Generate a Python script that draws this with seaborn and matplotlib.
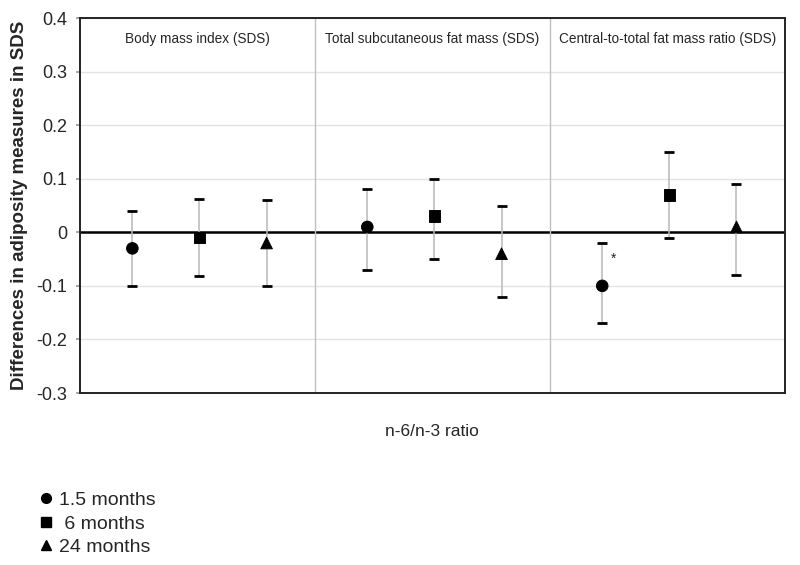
import numpy as np
import pandas as pd
import matplotlib
matplotlib.use('Agg')
import matplotlib.pyplot as plt
from matplotlib.lines import Line2D
import seaborn as sns

# data
outcomes = ['Body mass index (SDS)', 'Total subcutaneous fat mass (SDS)',
            'Central-to-total fat mass ratio (SDS)']
ages = ['1.5 months', '6 months', '24 months']
estimate = [-0.03, -0.01, -0.02,
            0.01, 0.03, -0.04,
            -0.10, 0.07, 0.01]
lower = [-0.10, -0.082, -0.10,
         -0.07, -0.05, -0.12,
         -0.17, -0.01, -0.08]
upper = [0.04, 0.063, 0.06,
         0.08, 0.10, 0.05,
         -0.02, 0.15, 0.09]
significant = [False, False, False, False, False, False, True, False, False]

df = pd.DataFrame({
    'outcome': np.repeat(outcomes, len(ages)),
    'age': ages * len(outcomes),
    'est': estimate,
    'lo': lower,
    'hi': upper,
    'sig': significant,
})
panel_w = 3.5
df['pos'] = [outcomes.index(o) * panel_w + 0.78 + ages.index(a)
             for o, a in zip(df['outcome'], df['age'])]

sns.set_theme(style='white')
plt.rcParams['font.family'] = ['Liberation Sans', 'DejaVu Sans']

fig = plt.figure(figsize=(8, 5.65), dpi=100)
ax = fig.add_axes([0.1, 0.3044, 0.881, 0.6637])

# error bars: grey stems, black caps
ax.vlines(df['pos'], df['lo'], df['hi'], color='#b8b8b8', lw=1.1, zorder=2)
ax.scatter(df['pos'], df['lo'], marker='_', s=50, color='black', linewidths=2.0, zorder=3)
ax.scatter(df['pos'], df['hi'], marker='_', s=50, color='black', linewidths=2.0, zorder=3)

markers = {'1.5 months': 'o', '6 months': 's', '24 months': '^'}
sns.scatterplot(data=df, x='pos', y='est', style='age', markers=markers,
                style_order=ages, color='black', s=70, edgecolor='black',
                legend=False, ax=ax, zorder=4)

for _, r in df[df['sig']].iterrows():
    ax.text(r['pos'] + 0.17, r['hi'] - 0.03, '*', fontsize=10, ha='center', va='center')

ax.set_xlim(0, panel_w * len(outcomes))
ax.set_ylim(-0.3, 0.4)
ax.set_yticks(np.arange(-0.3, 0.41, 0.1))
ax.set_yticklabels(['-0.3', '-0.2', '-0.1', '0', '0.1', '0.2', '0.3', '0.4'], fontsize=13)
ax.set_xticks([])
for y in np.arange(-0.2, 0.4, 0.1):
    ax.axhline(y, color='#e3e3e3', lw=1, zorder=0)
ax.axhline(0, color='black', lw=1.8, zorder=1)
for i in range(1, len(outcomes)):
    ax.axvline(i * panel_w, color='#c0c0c0', lw=1, zorder=1)
for i, o in enumerate(outcomes):
    ax.text(i * panel_w + panel_w / 2, 0.36, o, ha='center', va='center', fontsize=9.8)

ax.tick_params(axis='y', length=3, color='#999999', left=True, pad=6)
for s in ax.spines.values():
    s.set_color('#222222')
    s.set_linewidth(1.4)

ax.set_ylabel('Differences in adiposity measures in SDS', fontsize=13.5,
              fontweight='bold', labelpad=6)
ax.set_xlabel('n-6/n-3 ratio', fontsize=12.5, labelpad=22)

handles = [Line2D([], [], marker=markers[a], color='black', ls='', markersize=7)
           for a in ages]
fig.legend(handles, ['1.5 months', ' 6 months', '24 months'], loc='upper left',
           bbox_to_anchor=(0.021, 0.161), frameon=False, fontsize=14,
           handletextpad=0.05, labelspacing=0.3, handlelength=1.2)

fig.savefig('out.png', dpi=100)
